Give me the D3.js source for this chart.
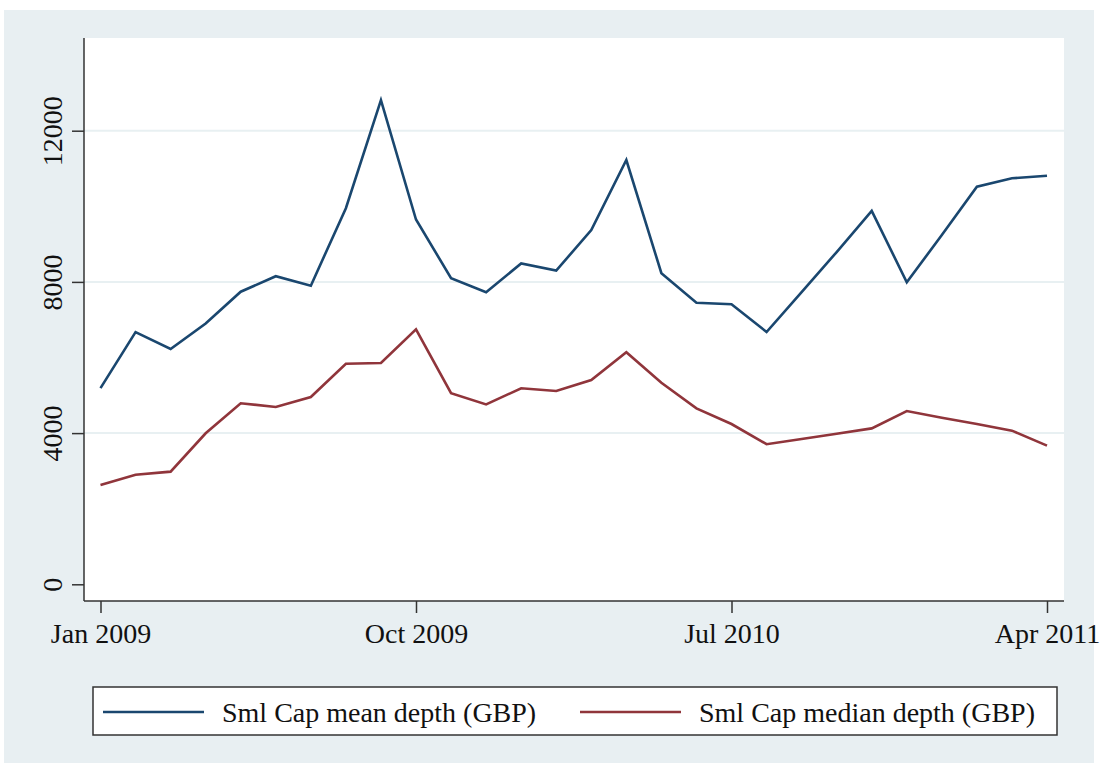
<!DOCTYPE html>
<html>
<head>
<style type="text/css">
body { margin: 0; background: #fff; }
text { font-family: "Liberation Serif", serif; fill: #111; }
.grid { stroke: #e8f0f2; stroke-width: 2; }
.axisline { stroke: #333; stroke-width: 1.5; }
.pathline { fill: none; stroke-width: 2.6; stroke-linejoin: miter; }
</style>
<script src="https://d3js.org/d3.v7.min.js"></script>
</head>
<body>
<script type="text/javascript">
var width = 1107;
var height = 765;

// months since Jan 2009 (Jan 2009 .. Apr 2011)
var months = d3.range(0, 28);
var meanDepth = [5190, 6670, 6225, 6900, 7740, 8150, 7900, 9950, 12810, 9650,
	8100, 7725, 8490, 8300, 9370, 11225, 8230, 7450, 7410, 6675,
	7730, 8790, 9880, 7990, 9240, 10520, 10740, 10810];
var medianDepth = [2630, 2900, 2980, 3995, 4790, 4690, 4955, 5835, 5855, 6745,
	5055, 4760, 5185, 5115, 5405, 6140, 5330, 4655, 4240, 3705,
	3845, 3985, 4125, 4585, 4405, 4240, 4065, 3670];
var xTickVals = [0, 9, 18, 27];
var xTickLabels = ["Jan 2009", "Oct 2009", "Jul 2010", "Apr 2011"];
var yTickVals = [0, 4000, 8000, 12000];
var seriesNames = ["Sml Cap mean depth (GBP)", "Sml Cap median depth (GBP)"];
var seriesColors = ["#1a476f", "#90353b"];

var plotL = 84, plotR = 1064, plotT = 38, plotB = 601;

var x = d3.scaleLinear().domain([0, 27]).range([100.5, 1047]);
var y = d3.scaleLinear().domain([0, 12000]).range([584.3, 130.7]);

var svg = d3.select("body").append("svg").attr("width", width).attr("height", height);

svg.append("rect").attr("x", 4).attr("y", 10).attr("width", 1090).attr("height", 753)
	.attr("fill", "#e8eff2");
svg.append("rect").attr("x", plotL).attr("y", plotT)
	.attr("width", plotR - plotL).attr("height", plotB - plotT).attr("fill", "#fff");

// grid
svg.selectAll(".grid").data(yTickVals.filter(function(d) { return d > 0; }))
	.enter().append("line").attr("class", "grid")
	.attr("x1", plotL).attr("x2", plotR)
	.attr("y1", function(d) { return y(d); }).attr("y2", function(d) { return y(d); });

// y axis
var yAxis = d3.axisLeft(y).tickValues(yTickVals).tickSize(12).tickPadding(10)
	.tickFormat(d3.format("d"));
var gy = svg.append("g").attr("transform", "translate(" + plotL + ",0)").call(yAxis);
gy.select(".domain").remove();
gy.selectAll(".tick line").attr("stroke", "#333").attr("stroke-width", 1.5);
gy.selectAll(".tick text")
	.attr("font-size", 28).attr("font-family", "Liberation Serif").attr("fill", "#111")
	.attr("text-anchor", "middle").attr("dy", 0).attr("x", 0)
	.attr("transform", "translate(-22,0) rotate(-90)");
svg.append("line").attr("class", "axisline")
	.attr("x1", plotL).attr("x2", plotL).attr("y1", plotT).attr("y2", plotB);

// x axis
var xAxis = d3.axisBottom(x).tickValues(xTickVals).tickSize(12).tickPadding(10)
	.tickFormat(function(d, i) { return xTickLabels[i]; });
var gx = svg.append("g").attr("transform", "translate(0," + plotB + ")").call(xAxis);
gx.select(".domain").remove();
gx.selectAll(".tick line").attr("stroke", "#333").attr("stroke-width", 1.5);
gx.selectAll(".tick text")
	.attr("font-size", 28).attr("font-family", "Liberation Serif").attr("fill", "#111")
	.attr("dy", 0).attr("y", 42);
svg.append("line").attr("class", "axisline")
	.attr("x1", plotL).attr("x2", plotR).attr("y1", plotB).attr("y2", plotB);

// lines
var line = d3.line()
	.x(function(d, i) { return x(months[i]); })
	.y(function(d) { return y(d); })
	.curve(d3.curveLinear);
[meanDepth, medianDepth].forEach(function(s, k) {
	svg.append("path").datum(s).attr("class", "pathline")
		.attr("stroke", seriesColors[k]).attr("d", line);
});

// legend
svg.append("rect").attr("x", 93).attr("y", 687).attr("width", 964).attr("height", 48)
	.attr("fill", "#fff").attr("stroke", "#333").attr("stroke-width", 1.5);
var legX = [103, 580];
seriesNames.forEach(function(n, k) {
	svg.append("line").attr("x1", legX[k]).attr("x2", legX[k] + 101)
		.attr("y1", 712).attr("y2", 712)
		.attr("stroke", seriesColors[k]).attr("stroke-width", 2.6);
	svg.append("text").attr("x", legX[k] + 119).attr("y", 722)
		.attr("font-size", 28).text(n);
});
</script>
</body>
</html>
